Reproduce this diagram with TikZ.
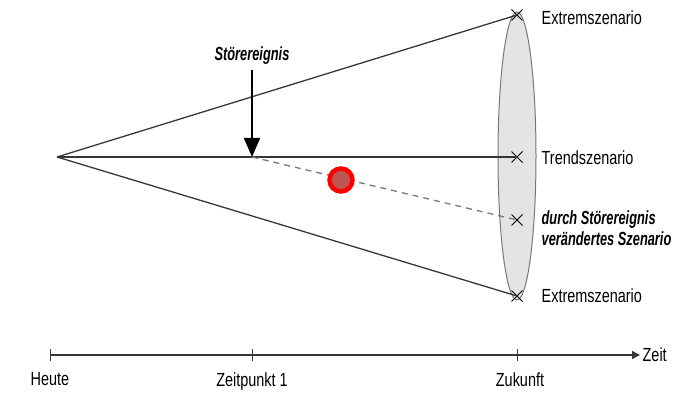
\documentclass[tikz,border=0pt]{standalone}
\usepackage{fontspec}
\setmainfont[FakeStretch=0.76]{Liberation Sans}
\newfontfamily\eventfont[FakeStretch=0.675]{Liberation Sans}
\usepackage{tikz}
\usetikzlibrary{shapes.geometric, shapes.misc, arrows.meta, positioning}
\definecolor{linegray}{RGB}{55,55,55}
\definecolor{dashgray}{RGB}{120,120,120}
\definecolor{conefill}{RGB}{228,228,228}
\definecolor{dotfill}{RGB}{190,85,85}
\tikzset{
    xmark/.style={cross out, draw=black, line width=1pt, minimum size=10pt, inner sep=0pt},
    scenlabel/.style={right, inner sep=0pt, font=\fontsize{19}{21}\selectfont},
    timelabel/.style={below, inner sep=0pt, font=\fontsize{19}{21}\selectfont},
    eventlab/.style={inner sep=0pt, font=\fontsize{19}{21}\eventfont\bfseries\itshape},
    tick/.style={draw=linegray, line width=0.9pt}
}
\begin{document}
\begin{tikzpicture}[x=1pt,y=-1pt,line width=1.3pt]
            \useasboundingbox (0,0) rectangle (689,395);
            % Future Ellipse
            \node[ellipse, draw=dashgray, line width=1pt, fill=conefill, minimum width=38, minimum height=288] (future) at (517,156) {};
            
            % Scenario Points
            \coordinate (heute) at (57,157);
            \node[xmark] (extremtop) at (517,15) {};
            \node[xmark] (trend) at (517,157) {};
            \node[xmark] (altered) at (517,220) {};
            \node[xmark] (extrembot) at (517,296) {};
            \coordinate (event) at (252,157);
            
            % Funnel Lines
            \draw[linegray] (heute) -- (extremtop.center);
            \draw[linegray] (heute) -- (trend.center);
            \draw[linegray] (heute) -- (extrembot.center);
            \draw[dashgray, dash pattern=on 6pt off 5pt] (event) -- (altered.center);
            
            % Disturbing Event
            \node[eventlab] (eventlabel) at (252,56) {Störereignis};
            \draw[line width=1.6pt, -{Triangle[width=16pt,length=19pt]}] (252,70) -- (event);
            \node[circle, draw=red, line width=4.5pt, fill=dotfill, minimum size=23pt, inner sep=0pt] (dot) at (341,180) {};
            
            % Scenario Labels
            \node[scenlabel] (extremtoplabel) at (541,18) {Extremszenario};
            \node[scenlabel] (trendlabel) at (541,158) {Trendszenario};
            \node[eventlab, right, align=left] (alteredlabel) at (541,228) {durch Störereignis\\verändertes Szenario};
            \node[scenlabel] (extrembotlabel) at (541,296) {Extremszenario};
            
            % Time Axis
            \coordinate (axisstart) at (50,355);
            \coordinate (axisend) at (640,355);
            \draw[linegray, line width=1.3pt, -{Triangle[width=8pt,length=8pt]}] (axisstart) -- (axisend);
            \node[right, inner sep=2pt, font=\fontsize{19}{21}\selectfont] (zeit) at (axisend) {Zeit};
            \draw[tick] (50,349) -- (50,361);
            \draw[tick] (252,349) -- (252,361);
            \draw[tick] (517,349) -- (517,361);
            \node[timelabel] (heutelabel) at (50,372) {Heute};
            \node[timelabel] (zp1label) at (252,372) {Zeitpunkt 1};
            \node[timelabel] (zukunftlabel) at (520,372) {Zukunft};
        \end{tikzpicture}
\end{document}
